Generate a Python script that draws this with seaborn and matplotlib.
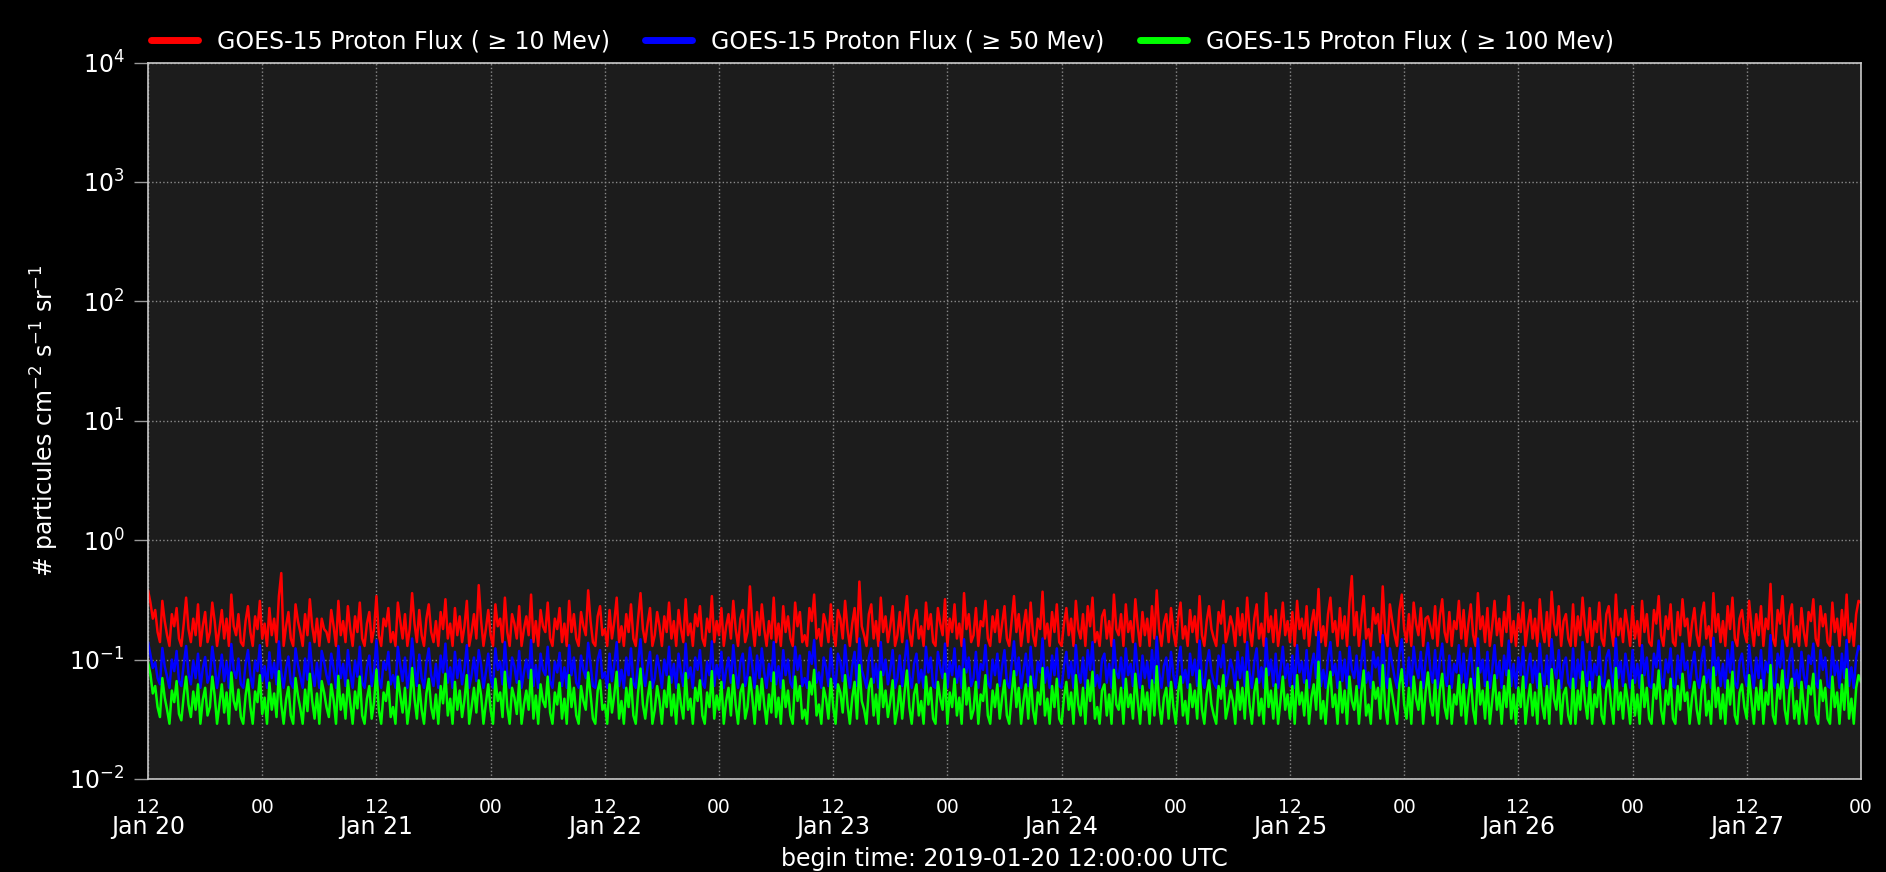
import pandas as pd
import numpy as np
import seaborn as sns
import matplotlib.pyplot as plt
import matplotlib.dates as mdates
from matplotlib.ticker import NullLocator

# GOES-15 proton flux, one reading every 15 min from 2019-01-20 12:00 UTC
# each row below = 6 hours of readings
start = "2019-01-20 12:00"
step = "15min"

# >= 10 MeV, in units of 0.01 particles cm-2 s-1 sr-1
red_flux = [
    38,30,22,26,17,14,31,21,16,13,24,19,27,15,13,20,33,18,14,22,16,29,13,19,
    25,14,17,30,21,13,18,26,15,22,13,35,19,16,24,14,13,21,28,17,13,23,18,31,
    15,20,13,27,16,22,14,34,53,13,19,25,15,13,29,21,17,13,24,16,32,19,14,22,
    13,22,18,17,14,26,19,13,31,16,21,14,28,18,13,23,17,30,15,13,20,25,14,18,
    34,16,13,22,19,27,14,17,13,30,21,15,24,13,18,36,20,14,26,16,13,22,29,17,
    14,21,13,25,18,32,15,20,13,27,16,23,14,19,31,13,17,24,15,42,21,13,18,26,
    16,13,29,19,22,14,33,17,13,24,20,15,28,13,18,23,16,35,14,21,13,26,19,17,
    30,15,13,22,18,27,14,20,13,31,17,24,15,13,25,19,16,38,21,14,13,23,28,16,
    18,13,26,15,21,33,14,19,13,24,17,29,15,13,22,36,18,14,20,27,13,16,25,19,
    13,23,17,30,15,21,13,26,18,14,32,16,20,13,24,19,28,15,13,22,17,34,14,21,
    16,27,13,19,24,15,31,18,13,22,26,14,17,41,20,13,25,16,29,18,13,21,15,33,
    14,20,13,28,17,23,15,13,30,19,25,14,16,13,27,21,35,15,18,13,24,20,14,29,
    17,13,26,22,15,31,18,13,20,27,14,45,19,16,13,24,29,15,21,13,33,17,23,14,
    19,28,13,16,25,14,22,34,17,13,21,26,15,19,13,30,18,24,14,13,27,20,16,32,
    13,22,17,29,15,20,13,36,18,24,14,16,27,13,21,19,31,15,13,23,17,26,14,20,
    28,15,13,21,34,17,24,13,19,26,14,30,16,13,22,18,37,15,20,13,25,17,29,14,
    13,20,27,16,22,13,31,18,15,24,13,28,19,33,14,17,13,23,26,15,21,13,35,18,
    16,24,13,29,17,21,14,32,19,13,25,16,22,13,28,15,38,18,13,20,24,14,27,17,
    13,22,30,15,19,13,26,17,23,14,34,16,13,21,28,18,15,13,25,20,31,14,17,23,
    19,13,27,16,24,14,33,18,13,22,29,15,20,13,36,17,23,14,26,13,19,30,16,21,
    14,25,13,31,18,22,15,28,13,20,26,16,39,14,19,13,24,33,17,21,13,27,15,23,
    13,30,50,16,25,13,22,34,15,18,13,27,20,24,14,41,17,13,29,21,16,13,26,35,
    18,14,24,13,30,20,16,27,13,22,23,19,15,28,13,23,32,17,14,25,13,21,18,31,
    15,26,13,20,29,16,13,36,18,23,14,27,13,19,31,16,22,13,25,17,34,14,21,13,
    24,17,30,13,19,26,15,22,13,32,18,14,25,13,37,20,16,28,13,21,24,15,13,29,
    13,23,16,33,19,14,27,13,21,17,30,15,13,24,28,18,13,35,16,22,14,26,19,13,
    28,15,21,13,31,17,24,14,13,26,20,34,16,13,23,18,29,14,13,25,16,32,19,22,
    13,20,27,16,13,23,30,15,19,13,36,17,24,14,21,13,28,18,33,15,13,22,26,17,
    14,31,19,13,24,16,28,13,22,18,43,15,13,26,20,34,16,13,23,29,14,19,13,27,
    17,13,25,21,32,15,13,28,19,24,14,13,30,17,22,13,26,16,35,14,20,13,24,31,
    30,
]

# >= 50 MeV, in units of 0.001
blue_flux = [
    140,110,85,95,70,62,125,88,72,58,100,80,118,66,60,92,130,76,62,98,70,112,58,84,
    105,64,74,128,90,58,78,110,66,96,58,135,82,70,102,62,58,92,120,74,58,98,80,132,
    66,88,58,115,70,94,62,142,78,58,84,106,64,58,124,90,72,58,102,68,138,82,60,94,
    58,118,96,74,62,112,84,58,130,70,92,60,120,78,58,98,72,128,64,58,86,108,60,80,
    145,70,58,96,82,116,62,74,58,128,90,66,104,58,78,150,86,60,110,70,58,94,124,74,
    60,92,58,108,78,136,64,86,58,116,70,100,62,84,132,58,74,104,66,120,90,58,78,112,
    70,58,124,82,96,62,140,74,58,104,88,64,118,58,78,100,70,146,60,90,58,112,82,74,
    128,66,58,96,78,114,60,86,58,132,74,104,64,58,108,82,70,138,92,60,58,100,120,70,
    78,58,112,66,92,140,60,82,58,104,74,124,64,58,96,148,78,60,88,116,58,70,108,82,
    58,100,74,128,64,92,58,112,78,60,136,70,86,58,104,82,120,64,58,96,74,142,60,90,
    70,116,58,82,104,64,132,78,58,96,112,60,74,126,88,58,108,70,124,78,58,92,66,140,
    62,88,58,120,74,100,64,58,128,82,108,60,70,58,116,92,146,64,78,58,104,86,60,124,
    74,58,112,96,66,132,78,58,88,116,60,150,82,70,58,104,124,64,92,58,140,74,100,62,
    82,120,58,70,108,60,96,144,74,58,92,112,64,82,58,128,78,104,60,58,116,86,70,136,
    58,96,74,124,64,88,58,148,78,104,60,70,116,58,92,82,132,64,58,100,74,112,60,88,
    120,64,58,92,142,74,104,58,82,112,60,128,70,58,96,78,150,64,86,58,108,74,124,60,
    58,88,116,70,96,58,132,78,64,104,58,120,82,140,60,74,58,100,112,64,92,58,146,78,
    70,104,58,124,74,92,60,136,82,58,108,70,96,58,120,64,155,78,58,88,104,60,116,74,
    58,96,128,64,82,58,112,74,100,60,144,70,58,92,120,78,64,58,108,86,132,60,74,100,
    82,58,116,70,104,60,140,78,58,96,124,64,86,58,150,74,100,60,112,58,82,128,70,92,
    60,108,58,132,78,96,64,120,58,88,112,70,170,60,82,58,104,140,74,92,58,116,66,100,
    58,128,82,70,108,58,96,144,64,78,58,116,86,104,60,160,74,58,124,92,70,58,112,148,
    78,60,104,58,128,86,70,116,58,96,138,82,64,120,58,100,136,74,60,108,58,92,78,132,
    64,112,58,88,124,70,58,150,78,100,60,116,58,82,132,70,96,58,108,74,144,60,92,58,
    104,74,128,58,82,112,64,96,58,136,78,60,108,58,148,86,70,120,58,92,104,64,58,124,
    58,100,70,140,82,60,116,58,92,74,128,64,58,104,120,78,58,150,70,96,60,112,82,58,
    120,64,92,58,132,74,104,60,58,112,86,144,70,58,100,78,124,60,58,108,70,136,82,96,
    58,88,116,70,58,100,128,64,82,58,152,74,104,60,92,58,120,78,140,64,58,96,112,74,
    60,132,82,58,104,70,120,58,96,78,160,64,58,112,86,144,70,58,100,124,60,82,58,116,
    74,58,108,92,136,64,58,120,82,104,60,58,128,74,96,58,112,70,146,60,86,58,104,130,
    120,
]

# >= 100 MeV, in units of 0.001
green_flux = [
    95,75,52,60,40,33,70,48,38,29,55,44,66,35,31,50,72,42,33,54,38,62,29,46,
    58,34,40,72,50,29,42,62,36,53,29,78,45,38,56,33,29,50,68,40,29,54,44,74,
    35,48,29,64,38,52,33,80,42,29,46,59,34,29,70,50,39,29,56,37,76,45,32,52,
    29,66,53,40,33,62,46,29,73,38,51,32,67,43,29,54,39,72,34,29,47,60,32,44,
    82,38,29,53,45,65,33,40,29,72,50,36,58,29,42,85,47,32,61,38,29,52,69,40,
    32,51,29,60,43,76,34,47,29,65,38,55,33,46,74,29,40,58,36,67,50,29,43,62,
    38,29,69,45,53,33,79,40,29,58,48,35,66,29,42,55,38,82,32,50,29,62,45,40,
    72,36,29,53,42,64,32,47,29,74,40,58,34,29,60,45,38,78,51,32,29,55,67,38,
    42,29,62,36,51,79,32,45,29,58,40,69,34,29,53,84,42,32,48,65,29,38,60,45,
    29,55,40,72,34,51,29,62,42,32,77,38,47,29,58,45,67,34,29,53,40,80,32,50,
    38,65,29,45,58,34,74,42,29,53,62,32,40,71,48,29,60,38,69,42,29,51,36,78,
    33,48,29,67,40,55,34,29,72,45,60,32,38,29,65,51,82,34,42,29,58,47,32,69,
    40,29,62,53,36,74,42,29,48,65,32,90,45,38,29,58,69,34,51,29,79,40,55,33,
    45,67,29,38,60,32,53,81,40,29,51,62,34,45,29,72,42,58,32,29,65,47,38,76,
    29,53,40,69,34,48,29,83,42,58,32,38,65,29,51,45,74,34,29,55,40,62,32,48,
    67,34,29,51,80,40,58,29,45,62,32,72,38,29,53,42,85,34,47,29,60,40,69,32,
    29,48,65,38,53,29,74,42,34,58,29,67,45,79,32,40,29,55,62,34,51,29,82,42,
    38,58,29,69,40,51,32,76,45,29,60,38,53,29,67,34,88,42,29,48,58,32,65,40,
    29,53,72,34,45,29,62,40,55,32,81,38,29,51,67,42,34,29,60,47,74,32,40,55,
    45,29,65,38,58,32,79,42,29,53,69,34,47,29,84,40,55,32,62,29,45,72,38,51,
    32,60,29,74,42,53,34,67,29,48,62,38,96,32,45,29,58,79,40,51,29,65,36,55,
    29,72,45,38,60,29,53,81,34,42,29,65,47,58,32,90,40,29,69,51,38,29,62,83,
    42,32,58,29,72,47,38,65,29,53,78,45,34,67,29,55,76,40,32,60,29,51,42,74,
    34,62,29,48,69,38,29,85,42,55,32,65,29,45,74,38,53,29,60,40,81,32,51,29,
    58,40,72,29,45,62,34,53,29,76,42,32,60,29,83,47,38,67,29,51,58,34,29,69,
    29,55,38,79,45,32,65,29,51,40,72,34,29,58,67,42,29,85,38,53,32,62,45,29,
    67,34,51,29,74,40,58,32,29,62,47,81,38,29,55,42,69,32,29,60,38,76,45,53,
    29,48,65,38,29,55,72,34,45,29,86,40,58,32,51,29,67,42,79,34,29,53,62,40,
    32,74,45,29,58,38,67,29,53,42,90,34,29,62,47,81,38,29,55,69,32,45,29,65,
    40,29,60,51,76,34,29,67,45,58,32,29,72,40,53,29,62,38,83,32,47,29,58,74,
    65,
]

labels = [
    "GOES-15 Proton Flux ( \u2265 10 Mev)",
    "GOES-15 Proton Flux ( \u2265 50 Mev)",
    "GOES-15 Proton Flux ( \u2265 100 Mev)",
]
units = [0.01, 0.001, 0.001]
colors = ["#ff0000", "#0000ff", "#00ff00"]
y_decades = [1e-2, 1e-1, 1e0, 1e1, 1e2, 1e3, 1e4]

frames = []
for lab, vals, u in zip(labels, [red_flux, blue_flux, green_flux], units):
    t = pd.date_range(start, periods=len(vals), freq=step)
    frames.append(pd.DataFrame({"time": t, "flux": np.array(vals) * u, "series": lab}))
df = pd.concat(frames, ignore_index=True)

sns.set_theme(style="dark")
plt.rcParams["font.family"] = ["DejaVu Sans"]

fig, ax = plt.subplots(figsize=(18.86, 8.72), dpi=100)
fig.patch.set_facecolor("black")
ax.set_facecolor("#1c1c1c")
fig.subplots_adjust(left=0.0785, right=0.9867, bottom=0.1067, top=0.9283)

sns.lineplot(data=df, x="time", y="flux", hue="series", hue_order=labels,
             palette=colors, estimator=None, linewidth=1.8, ax=ax)

ax.set_yscale("log")
ax.set_yticks(y_decades)
ax.set_ylim(1e-2, 1e4)
ax.yaxis.set_minor_locator(NullLocator())
ax.set_xlim(pd.Timestamp("2019-01-20 12:00"), pd.Timestamp("2019-01-28 00:00"))

# hours every 12h, dates under the noon ticks
ax.xaxis.set_major_locator(mdates.HourLocator(byhour=[0, 12]))
ax.xaxis.set_major_formatter(mdates.DateFormatter("%H"))
ax.xaxis.set_minor_locator(mdates.HourLocator(byhour=[12]))
ax.xaxis.set_minor_formatter(mdates.DateFormatter("%b %d"))
ax.xaxis.remove_overlapping_locs = False

ax.tick_params(axis="x", which="major", length=10, width=1, color="#999999",
               labelsize=13.5, labelcolor="white", pad=3.5)
ax.tick_params(axis="x", which="minor", length=0, labelsize=17,
               labelcolor="white", pad=26)
ax.tick_params(axis="y", which="major", length=10, width=1, color="#999999",
               labelsize=17, labelcolor="white", pad=7, left=True)

ax.grid(True, which="major", color="#8a8a8a", linestyle=":", linewidth=1)
for s in ax.spines.values():
    s.set_visible(True)
    s.set_color("#c8c8c8")
    s.set_linewidth(1.2)

ax.set_xlabel("begin time: 2019-01-20 12:00:00 UTC", fontsize=17, color="white", labelpad=6)
ax.set_ylabel("# particules cm$^{-2}$ s$^{-1}$ sr$^{-1}$", fontsize=17, color="white", labelpad=6)

handles, labs = ax.get_legend_handles_labels()
leg = ax.legend(handles, labs, loc="lower left", bbox_to_anchor=(-0.004, 1.0),
                ncol=3, frameon=False, fontsize=17, columnspacing=1.5,
                borderaxespad=0.0, labelcolor="white")
for ln in leg.get_lines():
    ln.set_linewidth(5)
    ln.set_solid_capstyle("round")

fig.savefig("out.png", dpi=100, facecolor=fig.get_facecolor())
